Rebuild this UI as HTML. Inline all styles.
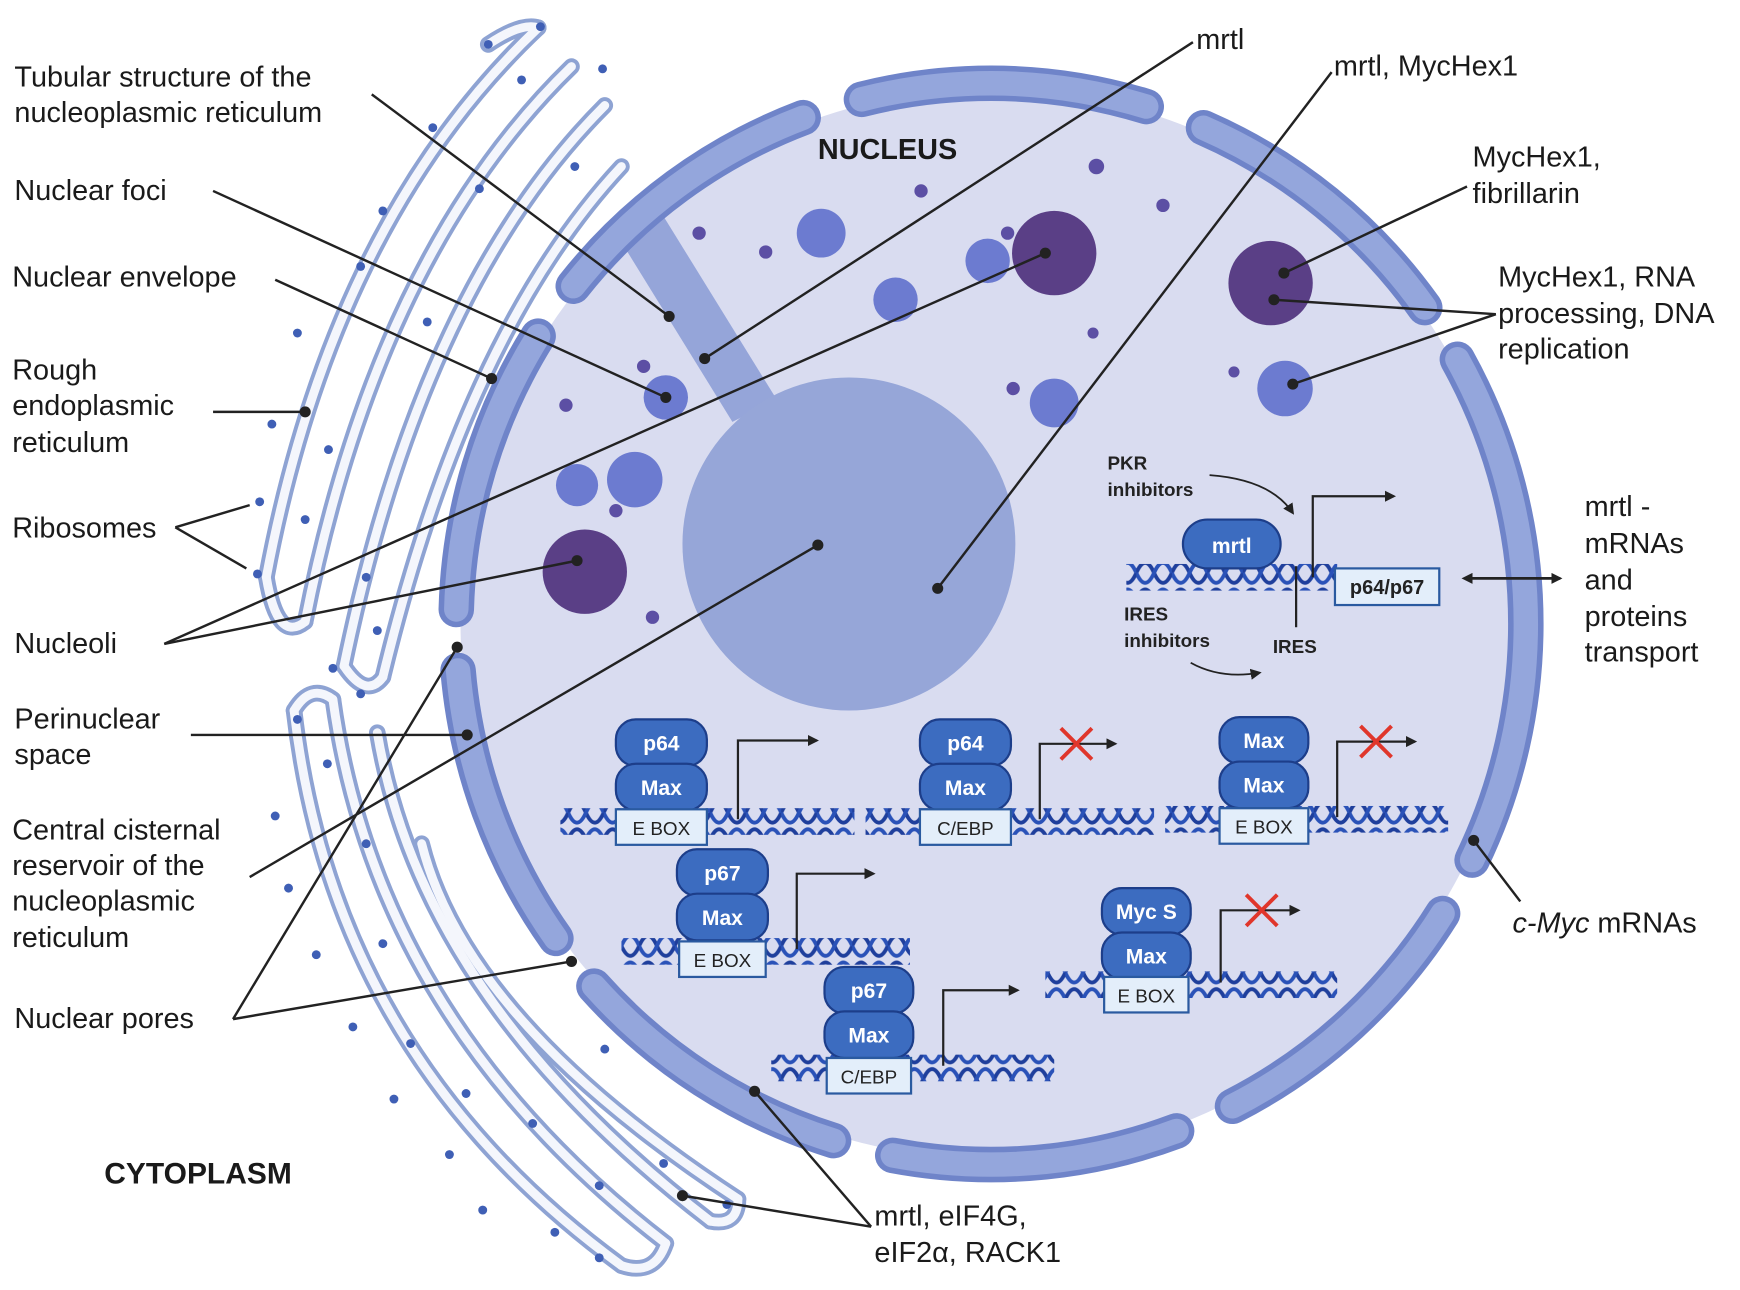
<!DOCTYPE html>
<html><head><meta charset="utf-8"><style>
html,body{margin:0;padding:0;background:#fff;}
svg{display:block;}
text{font-family:"Liberation Sans",sans-serif;}
</style></head><body>
<svg width="1740" height="1290" viewBox="0 0 1568 1162" preserveAspectRatio="none" xmlns="http://www.w3.org/2000/svg">
<defs>
<pattern id="dna" patternUnits="userSpaceOnUse" width="32" height="24" x="0" y="0">
<path d="M0 12 Q8 -6 16 12 T32 12" fill="none" stroke="#1f3f9c" stroke-width="3.5"/>
<path d="M0 12 Q8 30 16 12 T32 12" fill="none" stroke="#2a52b8" stroke-width="3.5"/>
</pattern>
<marker id="ah" markerWidth="10" markerHeight="10" refX="8" refY="5" orient="auto" markerUnits="userSpaceOnUse"><path d="M0 0 L10 5 L0 10 Z" fill="#222"/></marker>
<marker id="ahs" markerWidth="10" markerHeight="10" refX="2" refY="5" orient="auto-start-reverse" markerUnits="userSpaceOnUse"><path d="M0 0 L10 5 L0 10 Z" fill="#222"/></marker>
</defs>
<rect width="1568" height="1162" fill="#fff"/>

<!-- ER tubes -->
<g fill="none" stroke-linecap="round">
<g stroke="#8ea3d3" stroke-width="15">
<path d="M485 25 Q300 200 240 520"/><path d="M515 60 Q340 230 275 560"/><path d="M545 95 Q380 260 310 600"/><path d="M560 150 Q420 300 345 610"/>
<path d="M440 40 Q470 20 485 25"/><path d="M240 520 Q250 580 275 560"/><path d="M310 600 Q330 630 345 610"/>
<path d="M265 640 Q300 950 560 1140"/><path d="M300 630 Q340 920 600 1120"/><path d="M340 660 Q380 900 640 1100"/><path d="M380 760 Q420 920 665 1080"/>
<path d="M265 640 Q280 615 300 630"/><path d="M560 1140 Q590 1150 600 1120"/><path d="M640 1100 Q665 1105 665 1080"/>
</g>
<g stroke="#f4f6fc" stroke-width="8">
<path d="M485 25 Q300 200 240 520"/><path d="M515 60 Q340 230 275 560"/><path d="M545 95 Q380 260 310 600"/><path d="M560 150 Q420 300 345 610"/>
<path d="M440 40 Q470 20 485 25"/><path d="M240 520 Q250 580 275 560"/><path d="M310 600 Q330 630 345 610"/>
<path d="M265 640 Q300 950 560 1140"/><path d="M300 630 Q340 920 600 1120"/><path d="M340 660 Q380 900 640 1100"/><path d="M380 760 Q420 920 665 1080"/>
<path d="M265 640 Q280 615 300 630"/><path d="M560 1140 Q590 1150 600 1120"/><path d="M640 1100 Q665 1105 665 1080"/>
</g>
</g>
<g fill="#3f5fb5">
<circle cx="487" cy="24" r="4"/><circle cx="440" cy="40" r="4"/><circle cx="543" cy="62" r="4"/><circle cx="470" cy="72" r="4"/><circle cx="390" cy="115" r="4"/><circle cx="518" cy="150" r="4"/><circle cx="345" cy="190" r="4"/><circle cx="432" cy="170" r="4"/><circle cx="325" cy="240" r="4"/><circle cx="268" cy="300" r="4"/><circle cx="385" cy="290" r="4"/><circle cx="245" cy="382" r="4"/><circle cx="296" cy="405" r="4"/><circle cx="234" cy="452" r="4"/><circle cx="232" cy="517" r="4"/><circle cx="275" cy="468" r="4"/><circle cx="330" cy="520" r="4"/><circle cx="300" cy="602" r="4"/><circle cx="340" cy="568" r="4"/>
<circle cx="268" cy="648" r="4"/><circle cx="325" cy="625" r="4"/><circle cx="248" cy="735" r="4"/><circle cx="295" cy="688" r="4"/><circle cx="260" cy="800" r="4"/><circle cx="330" cy="760" r="4"/><circle cx="285" cy="860" r="4"/><circle cx="345" cy="850" r="4"/><circle cx="318" cy="925" r="4"/><circle cx="370" cy="940" r="4"/><circle cx="355" cy="990" r="4"/><circle cx="420" cy="985" r="4"/><circle cx="405" cy="1040" r="4"/><circle cx="480" cy="1012" r="4"/><circle cx="435" cy="1090" r="4"/><circle cx="540" cy="1068" r="4"/><circle cx="500" cy="1110" r="4"/><circle cx="540" cy="1133" r="4"/><circle cx="598" cy="1048" r="4"/><circle cx="655" cy="1085" r="4"/><circle cx="545" cy="945" r="4"/>
</g>

<!-- Nucleus -->
<ellipse cx="893" cy="562" rx="478" ry="482" fill="#d9dcf0"/>
<path d="M555 210 L598 195 L700 360 L660 380 Z" fill="#95a5d9"/>
<circle cx="765" cy="490" r="150" fill="#96a6d8"/>
<g fill="none" stroke-linecap="round">
<ellipse cx="893" cy="562" rx="482" ry="487" stroke="#6f84c9" stroke-width="32" stroke-dasharray="260 55" stroke-dashoffset="40"/>
<ellipse cx="893" cy="562" rx="482" ry="487" stroke="#94a6dc" stroke-width="22" stroke-dasharray="260 55" stroke-dashoffset="40"/>
</g>

<!-- bodies -->
<g fill="#5a3f86"><circle cx="950" cy="228" r="38"/><circle cx="1145" cy="255" r="38"/><circle cx="527" cy="515" r="38"/></g>
<g fill="#6c7bd0"><circle cx="740" cy="210" r="22"/><circle cx="890" cy="235" r="20"/><circle cx="807" cy="270" r="20"/><circle cx="600" cy="358" r="20"/><circle cx="520" cy="437" r="19"/><circle cx="572" cy="432" r="25"/><circle cx="950" cy="363" r="22"/><circle cx="1158" cy="350" r="25"/></g>
<g fill="#5c4fa4"><circle cx="630" cy="210" r="6"/><circle cx="690" cy="227" r="6"/><circle cx="830" cy="172" r="6"/><circle cx="988" cy="150" r="7"/><circle cx="1048" cy="185" r="6"/><circle cx="985" cy="300" r="5"/><circle cx="908" cy="210" r="6"/><circle cx="580" cy="330" r="6"/><circle cx="510" cy="365" r="6"/><circle cx="913" cy="350" r="6"/><circle cx="1112" cy="335" r="5"/><circle cx="555" cy="460" r="6"/><circle cx="588" cy="556" r="6"/></g>

<!-- connectors -->
<g stroke="#222" stroke-width="2.2" fill="none">
<path d="M335 85 L603 285"/><path d="M1075 38 L635 323"/><path d="M1200 65 L845 530"/>
<path d="M1322 168 L1157 246"/><path d="M1348 283 L1148 270"/><path d="M1348 283 L1165 346"/>
<path d="M192 172 L600 358"/><path d="M248 252 L443 341"/><path d="M192 371 L275 371"/>
<path d="M158 475 L225 455"/><path d="M158 475 L222 512"/>
<path d="M148 580 L942 228"/><path d="M148 580 L520 505"/>
<path d="M172 662 L421 662"/><path d="M225 790 L737 491"/>
<path d="M210 918 L412 583"/><path d="M210 918 L515 866"/>
<path d="M1370 812 L1328 757"/>
<path d="M785 1105 L680 983"/><path d="M785 1105 L615 1077"/>
</g>
<g fill="#222">
<circle cx="603" cy="285" r="5"/><circle cx="635" cy="323" r="5"/><circle cx="845" cy="530" r="5"/><circle cx="1157" cy="246" r="5"/><circle cx="1148" cy="270" r="5"/><circle cx="1165" cy="346" r="5"/><circle cx="600" cy="358" r="5"/><circle cx="443" cy="341" r="5"/><circle cx="275" cy="371" r="5"/><circle cx="942" cy="228" r="5"/><circle cx="520" cy="505" r="5"/><circle cx="421" cy="662" r="5"/><circle cx="737" cy="491" r="5"/><circle cx="412" cy="583" r="5"/><circle cx="515" cy="866" r="5"/><circle cx="1328" cy="757" r="5"/><circle cx="680" cy="983" r="5"/><circle cx="615" cy="1077" r="5"/>
</g>

<!-- labels -->
<g font-size="26" fill="#1a1a1a">
<text x="13" y="78">Tubular structure of the</text>
<text x="13" y="110">nucleoplasmic reticulum</text>
<text x="13" y="180">Nuclear foci</text>
<text x="11" y="258">Nuclear envelope</text>
<text x="11" y="342">Rough</text><text x="11" y="374">endoplasmic</text><text x="11" y="407">reticulum</text>
<text x="11" y="484">Ribosomes</text>
<text x="13" y="588">Nucleoli</text>
<text x="13" y="656">Perinuclear</text><text x="13" y="688">space</text>
<text x="11" y="756">Central cisternal</text><text x="11" y="788">reservoir of the</text><text x="11" y="820">nucleoplasmic</text><text x="11" y="853">reticulum</text>
<text x="13" y="926">Nuclear pores</text>
<text x="1078" y="44">mrtl</text>
<text x="1202" y="68">mrtl, MycHex1</text>
<text x="1327" y="150">MycHex1,</text><text x="1327" y="183">fibrillarin</text>
<text x="1350" y="258">MycHex1, RNA</text><text x="1350" y="291">processing, DNA</text><text x="1350" y="323">replication</text>
<text x="1428" y="465">mrtl -</text><text x="1428" y="498">mRNAs</text><text x="1428" y="531">and</text><text x="1428" y="564">proteins</text><text x="1428" y="596">transport</text>
<text x="1363" y="840"><tspan font-style="italic">c-Myc</tspan> mRNAs</text>
<text x="788" y="1104">mrtl, eIF4G,</text><text x="788" y="1137">eIF2α, RACK1</text>
</g>
<text x="737" y="143" font-size="26" font-weight="bold" fill="#1a1a1a">NUCLEUS</text>
<text x="94" y="1066" font-size="27" font-weight="bold" fill="#1a1a1a">CYTOPLASM</text>

<!-- mrtl construct -->
<rect x="1015" y="508" width="190" height="24" fill="url(#dna)"/>
<rect x="1066" y="468" width="88" height="44" rx="22" fill="#3c6cc0" stroke="#1d3e8a" stroke-width="2"/>
<text x="1110" y="498" font-size="19" font-weight="bold" fill="#fff" text-anchor="middle">mrtl</text>
<rect x="1203" y="512" width="94" height="33" fill="#e3eefa" stroke="#2a5aa0" stroke-width="2"/>
<text x="1250" y="535" font-size="18" font-weight="bold" fill="#222" text-anchor="middle">p64/p67</text>
<path d="M1183 520 L1183 447 L1256 447" stroke="#222" stroke-width="2" fill="none" marker-end="url(#ah)"/>
<path d="M1168 510 L1168 565" stroke="#222" stroke-width="2"/>
<g font-size="17" font-weight="bold" fill="#222">
<text x="998" y="423">PKR</text><text x="998" y="447">inhibitors</text>
<text x="1013" y="559">IRES</text><text x="1013" y="583">inhibitors</text>
<text x="1147" y="588">IRES</text>
</g>
<path d="M1090 428 Q1145 432 1165 462" stroke="#222" stroke-width="1.6" fill="none" marker-end="url(#ah)"/>
<path d="M1073 597 Q1100 612 1135 606" stroke="#222" stroke-width="1.6" fill="none" marker-end="url(#ah)"/>
<path d="M1325 521 L1406 521" stroke="#222" stroke-width="2.5" fill="none" marker-start="url(#ahs)" marker-end="url(#ah)"/>

<!-- constructs -->
<g>
<rect x="505" y="728" width="265" height="24" fill="url(#dna)"/>
<rect x="555" y="648" width="82" height="42" rx="18" fill="#3c6cc0" stroke="#1d3e8a" stroke-width="2"/>
<rect x="555" y="688" width="82" height="42" rx="18" fill="#3c6cc0" stroke="#1d3e8a" stroke-width="2"/>
<text x="596" y="676" font-size="19" font-weight="bold" fill="#fff" text-anchor="middle">p64</text>
<text x="596" y="716" font-size="19" font-weight="bold" fill="#fff" text-anchor="middle">Max</text>
<rect x="555" y="729" width="82" height="32" fill="#e3eefa" stroke="#2a5aa0" stroke-width="2"/>
<text x="596" y="752" font-size="17" fill="#222" text-anchor="middle">E BOX</text>
<path d="M665 738 L665 667 L736 667" stroke="#222" stroke-width="2" fill="none" marker-end="url(#ah)"/>
</g>
<g>
<rect x="780" y="728" width="260" height="24" fill="url(#dna)"/>
<rect x="829" y="648" width="82" height="42" rx="18" fill="#3c6cc0" stroke="#1d3e8a" stroke-width="2"/>
<rect x="829" y="688" width="82" height="42" rx="18" fill="#3c6cc0" stroke="#1d3e8a" stroke-width="2"/>
<text x="870" y="676" font-size="19" font-weight="bold" fill="#fff" text-anchor="middle">p64</text>
<text x="870" y="716" font-size="19" font-weight="bold" fill="#fff" text-anchor="middle">Max</text>
<rect x="829" y="729" width="82" height="32" fill="#e3eefa" stroke="#2a5aa0" stroke-width="2"/>
<text x="870" y="752" font-size="17" fill="#222" text-anchor="middle">C/EBP</text>
<path d="M937 738 L937 670 L1005 670" stroke="#222" stroke-width="2" fill="none" marker-end="url(#ah)"/>
<path d="M956 656 L984 684 M984 656 L956 684" stroke="#e0362b" stroke-width="3.5"/>
</g>
<g>
<rect x="1050" y="726" width="255" height="24" fill="url(#dna)"/>
<rect x="1099" y="646" width="80" height="42" rx="18" fill="#3c6cc0" stroke="#1d3e8a" stroke-width="2"/>
<rect x="1099" y="686" width="80" height="42" rx="18" fill="#3c6cc0" stroke="#1d3e8a" stroke-width="2"/>
<text x="1139" y="674" font-size="19" font-weight="bold" fill="#fff" text-anchor="middle">Max</text>
<text x="1139" y="714" font-size="19" font-weight="bold" fill="#fff" text-anchor="middle">Max</text>
<rect x="1099" y="728" width="80" height="32" fill="#e3eefa" stroke="#2a5aa0" stroke-width="2"/>
<text x="1139" y="751" font-size="17" fill="#222" text-anchor="middle">E BOX</text>
<path d="M1205 736 L1205 668 L1275 668" stroke="#222" stroke-width="2" fill="none" marker-end="url(#ah)"/>
<path d="M1226 654 L1254 682 M1254 654 L1226 682" stroke="#e0362b" stroke-width="3.5"/>
</g>
<g>
<rect x="560" y="845" width="260" height="24" fill="url(#dna)"/>
<rect x="610" y="765" width="82" height="42" rx="18" fill="#3c6cc0" stroke="#1d3e8a" stroke-width="2"/>
<rect x="610" y="805" width="82" height="42" rx="18" fill="#3c6cc0" stroke="#1d3e8a" stroke-width="2"/>
<text x="651" y="793" font-size="19" font-weight="bold" fill="#fff" text-anchor="middle">p67</text>
<text x="651" y="833" font-size="19" font-weight="bold" fill="#fff" text-anchor="middle">Max</text>
<rect x="612" y="848" width="78" height="32" fill="#e3eefa" stroke="#2a5aa0" stroke-width="2"/>
<text x="651" y="871" font-size="17" fill="#222" text-anchor="middle">E BOX</text>
<path d="M718 855 L718 787 L787 787" stroke="#222" stroke-width="2" fill="none" marker-end="url(#ah)"/>
</g>
<g>
<rect x="942" y="875" width="263" height="24" fill="url(#dna)"/>
<rect x="993" y="800" width="80" height="42" rx="18" fill="#3c6cc0" stroke="#1d3e8a" stroke-width="2"/>
<rect x="993" y="840" width="80" height="42" rx="18" fill="#3c6cc0" stroke="#1d3e8a" stroke-width="2"/>
<text x="1033" y="828" font-size="19" font-weight="bold" fill="#fff" text-anchor="middle">Myc S</text>
<text x="1033" y="868" font-size="19" font-weight="bold" fill="#fff" text-anchor="middle">Max</text>
<rect x="995" y="880" width="76" height="32" fill="#e3eefa" stroke="#2a5aa0" stroke-width="2"/>
<text x="1033" y="903" font-size="17" fill="#222" text-anchor="middle">E BOX</text>
<path d="M1100 885 L1100 820 L1170 820" stroke="#222" stroke-width="2" fill="none" marker-end="url(#ah)"/>
<path d="M1123 806 L1151 834 M1151 806 L1123 834" stroke="#e0362b" stroke-width="3.5"/>
</g>
<g>
<rect x="695" y="950" width="255" height="24" fill="url(#dna)"/>
<rect x="743" y="871" width="80" height="42" rx="18" fill="#3c6cc0" stroke="#1d3e8a" stroke-width="2"/>
<rect x="743" y="911" width="80" height="42" rx="18" fill="#3c6cc0" stroke="#1d3e8a" stroke-width="2"/>
<text x="783" y="899" font-size="19" font-weight="bold" fill="#fff" text-anchor="middle">p67</text>
<text x="783" y="939" font-size="19" font-weight="bold" fill="#fff" text-anchor="middle">Max</text>
<rect x="745" y="953" width="76" height="32" fill="#e3eefa" stroke="#2a5aa0" stroke-width="2"/>
<text x="783" y="976" font-size="17" fill="#222" text-anchor="middle">C/EBP</text>
<path d="M850 960 L850 892 L917 892" stroke="#222" stroke-width="2" fill="none" marker-end="url(#ah)"/>
</g>
</svg>
</body></html>
